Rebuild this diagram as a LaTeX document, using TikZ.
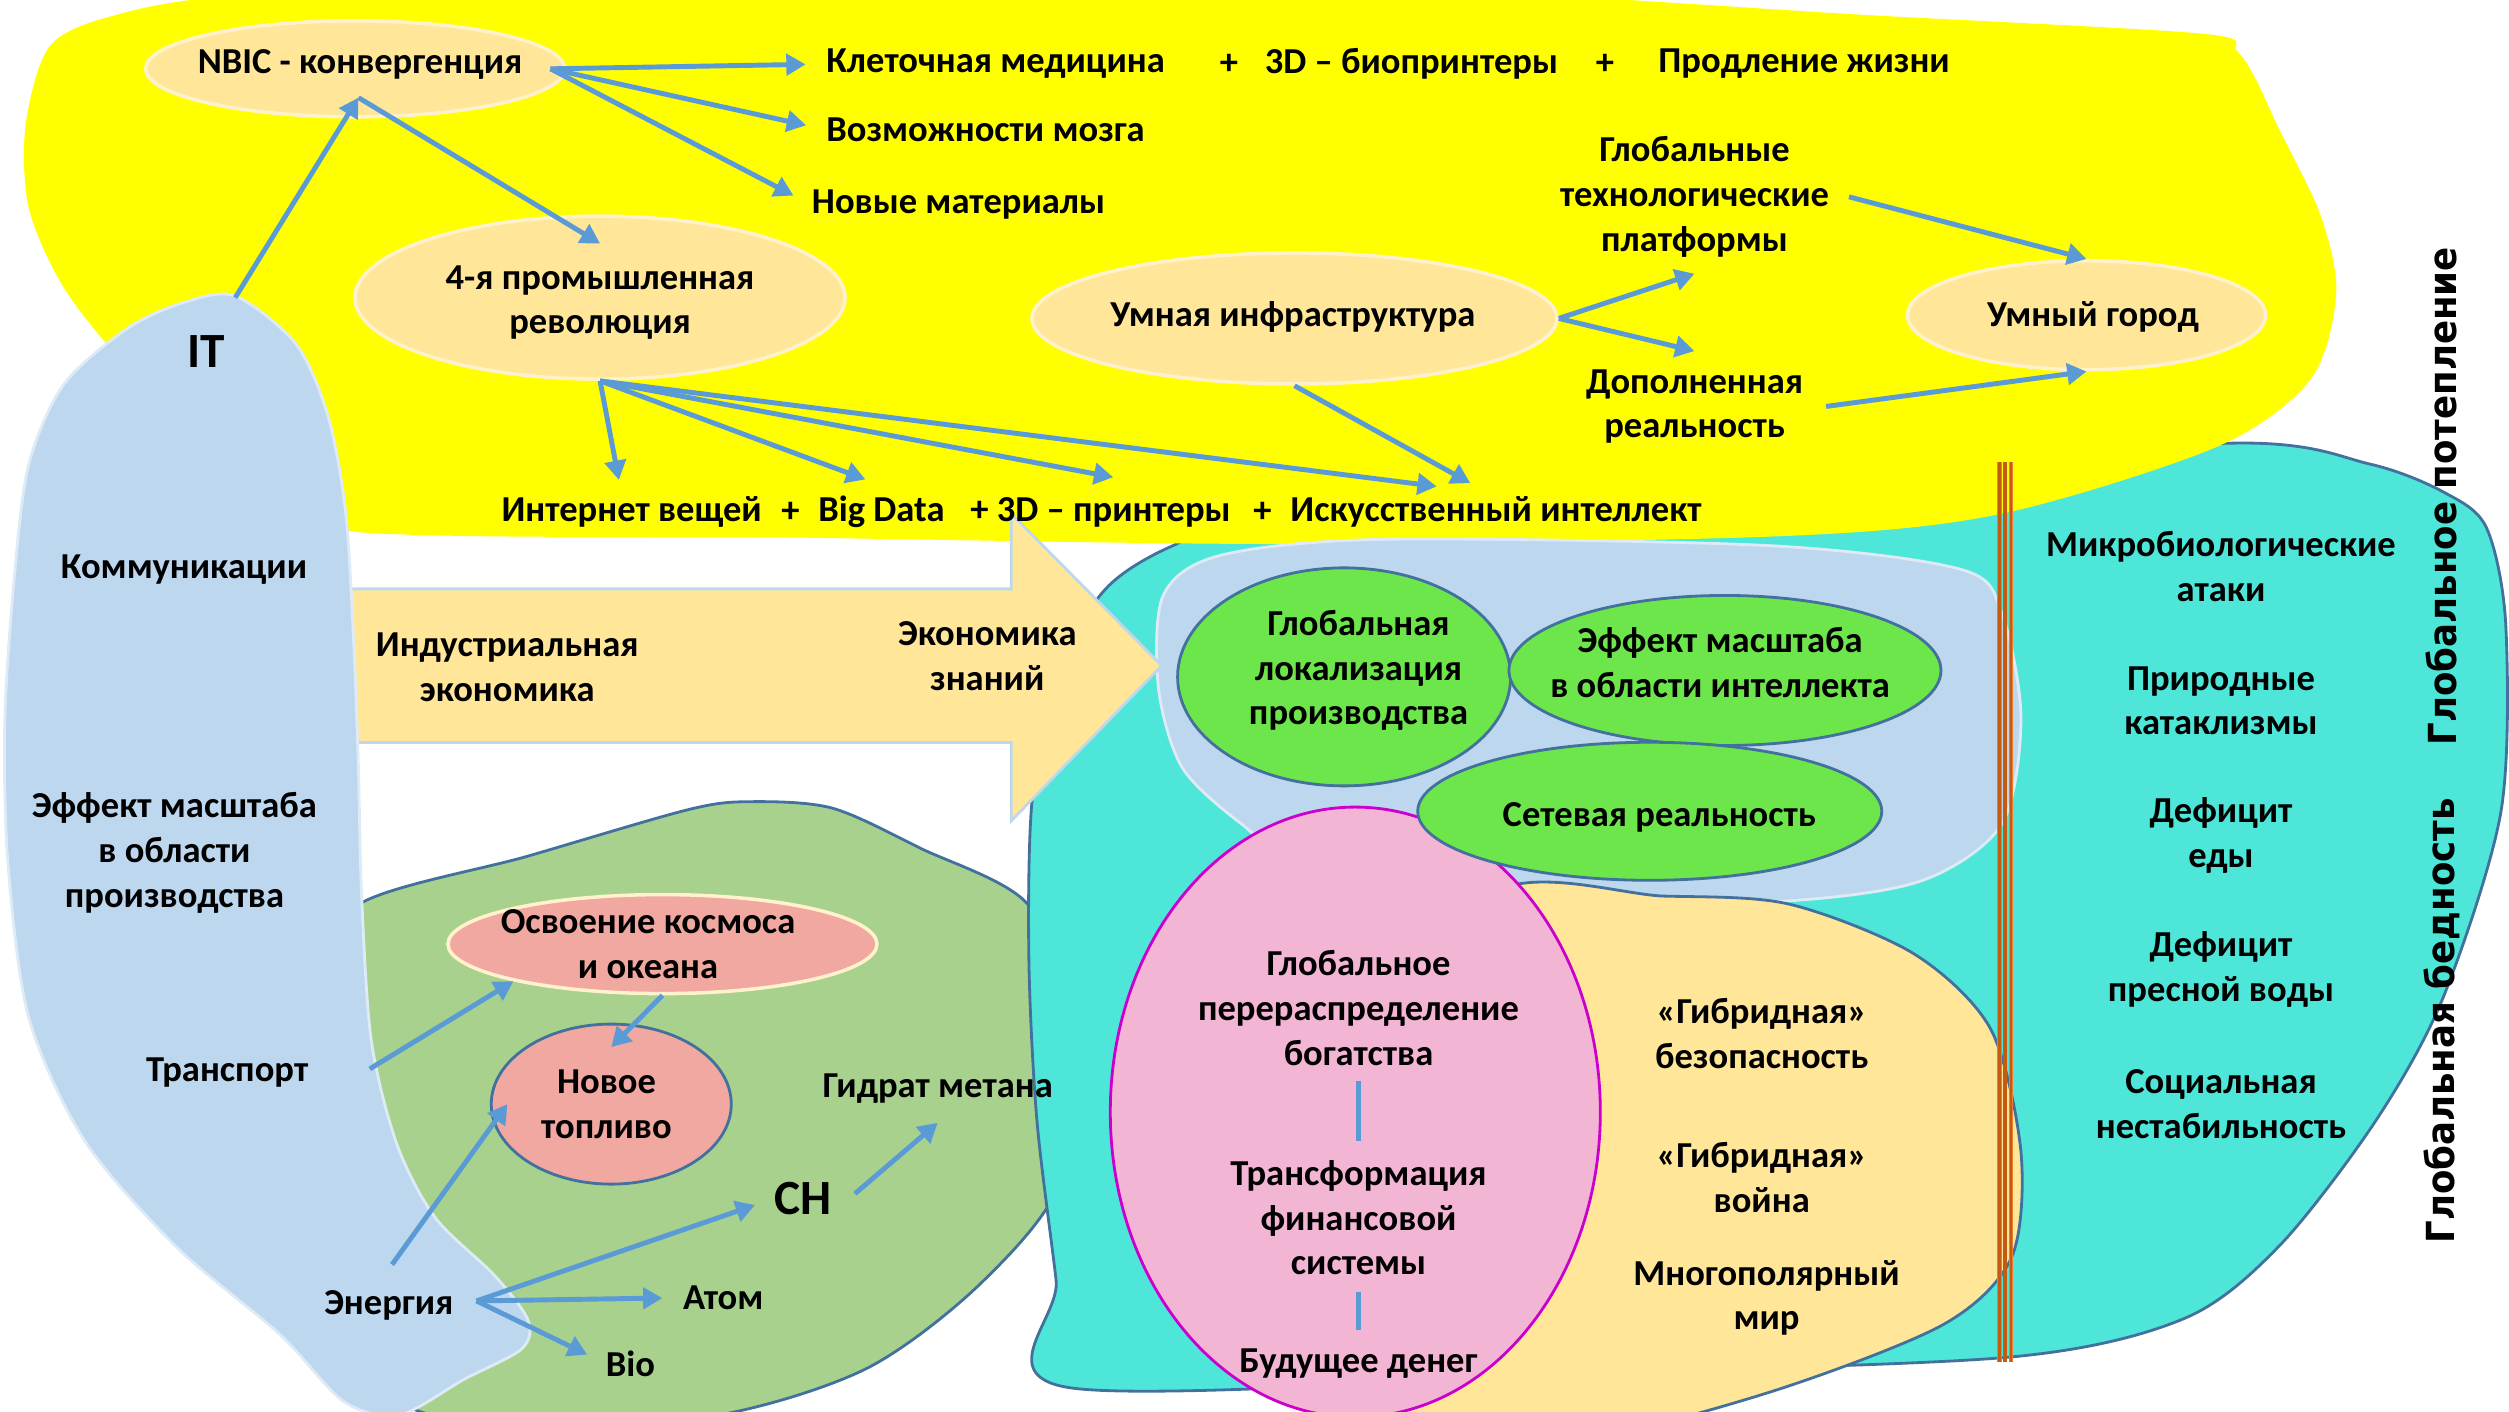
\documentclass[tikz,border=0pt]{standalone}
\usepackage{fontspec}
\setmainfont{Carlito}
\newfontfamily\sidefont{DejaVu Sans}[FakeStretch=0.92]
\usetikzlibrary{shapes.geometric,arrows.meta,calc}

\definecolor{sunyellow}{HTML}{FFFF00}
\definecolor{itblue}{HTML}{BDD7EE}
\definecolor{itedge}{HTML}{DEEBF7}
\definecolor{fieldgreen}{HTML}{A9D18E}
\definecolor{seacyan}{HTML}{4EE6D9}
\definecolor{edgeblue}{HTML}{41719C}
\definecolor{sand}{HTML}{FFE699}
\definecolor{sandedge}{HTML}{FFF2CC}
\definecolor{rose}{HTML}{F3B5D4}
\definecolor{roseedge}{HTML}{CC00CC}
\definecolor{salmon}{HTML}{F0A8A0}
\definecolor{lime}{HTML}{6DE64B}
\definecolor{linkblue}{HTML}{5B9BD5}
\definecolor{rust}{HTML}{C55A11}
\definecolor{rustlight}{HTML}{ED7D31}

\newcommand\lblfont{\fontsize{10.4}{12.7}\selectfont\bfseries}

\tikzset{
  lbl/.style={font=\lblfont, align=center, inner sep=0pt},
  biglbl/.style={font=\fontsize{14}{16}\selectfont\bfseries, inner sep=0pt},
  sidelbl/.style={font=\sidefont\fontsize{11}{13}\selectfont\bfseries, inner sep=0pt, rotate=90},
  oval/.style={ellipse, inner sep=0pt},
  arr/.style={draw=linkblue, line width=1.4pt, -{Triangle[length=5.5pt,width=6pt]}},
  link/.style={draw=linkblue, line width=1.6pt},
}

\begin{document}
\begin{tikzpicture}[x=0.16mm, y=-0.16mm]
\useasboundingbox (0,0) rectangle (1568,882);
\clip (0,0) rectangle (1568,882);

% background areas
\filldraw[fill=fieldgreen, draw=edgeblue, line width=0.8pt] plot[smooth cycle] coordinates {
  (223,566) (330,535) (430,506) (469,501) (520,505) (575,530) (643,566)
  (660,640) (664,735) (614,801) (540,856) (439,886) (300,890) (230,860) (205,750) (210,620)};
\filldraw[fill=seacyan, draw=edgeblue, line width=0.8pt] plot[smooth cycle] coordinates {
  (691,368) (733,341) (800,320) (1100,300) (1392,277) (1481,290) (1528,308) (1554,330)
  (1566,391) (1563,507) (1527,623) (1485,700) (1425,778) (1365,824) (1257,848)
  (1000,858) (667,867) (660,800) (648,700) (643,600) (645,500) (660,420)};
\fill[sunyellow] plot[smooth cycle] coordinates {
  (150,-3) (70,10) (31,29) (16,78) (18,130) (40,180) (80,230) (150,300) (218,332)
  (500,336) (813,340) (1115,335) (1251,321) (1386,279) (1444,237) (1460,183)
  (1450,134) (1423,78) (1410,50) (1398,32) (1376,21) (1160,9) (948,-4) (700,-14) (400,-14)};
\filldraw[fill=itblue, draw=itedge, line width=0.8pt] plot[smooth cycle] coordinates {
  (727,372) (763,347) (866,337) (1106,341) (1226,356) (1251,383) (1263,449)
  (1251,515) (1202,550) (1118,563) (950,568) (805,530) (776,515) (739,480) (724,430)};
\filldraw[fill=sand, draw=edgeblue, line width=0.8pt] plot[smooth cycle] coordinates {
  (930,560) (1040,560) (1118,565) (1196,596) (1244,643) (1263,720) (1257,786)
  (1214,828) (1106,870) (986,900) (870,900) (860,700)};
\node[oval, fill=rose, draw=roseedge, line width=0.8pt, minimum width=49mm, minimum height=61mm] (wealth) at (847,695) {};

% green ovals
\node[oval, fill=lime, draw=edgeblue, line width=0.8pt, minimum width=33.3mm, minimum height=21.8mm] (loc) at (840,423) {};
\node[oval, fill=lime, draw=edgeblue, line width=0.8pt, minimum width=43.2mm, minimum height=15mm] (scale) at (1078,419) {};
\node[oval, fill=lime, draw=edgeblue, line width=0.8pt, minimum width=46.4mm, minimum height=13.8mm] (net) at (1031,507) {};

% big arrow
\draw[fill=sand, draw=itblue, line width=0.8pt] (218,368) -- (632,368) -- (632,321) -- (726,416)
  -- (632,513) -- (632,464) -- (218,464) -- cycle;

% IT area
\filldraw[fill=itblue, draw=itedge, line width=0.8pt] plot[smooth cycle] coordinates {
  (147,185) (185,215) (205,260) (216,320) (221,400) (224,480) (226,560) (232,650)
  (248,715) (272,761) (309,797) (330,825) (326,843) (290,862) (250,884) (215,876)
  (175,834) (110,779) (53,713) (18,636) (5,540) (3,450) (9,360) (18,290) (40,240)
  (80,205) (115,189)};

% tan and salmon ovals
\node[oval, fill=sand, draw=sandedge, line width=1pt, minimum width=41.9mm, minimum height=9.6mm] (nbic) at (222,43) {};
\node[oval, fill=sand, draw=sandedge, line width=1pt, minimum width=49mm, minimum height=16.3mm] (rev) at (375,186) {};
\node[oval, fill=sand, draw=sandedge, line width=1pt, minimum width=52.5mm, minimum height=13.1mm] (infra) at (809,199) {};
\node[oval, fill=sand, draw=sandedge, line width=1pt, minimum width=35.8mm, minimum height=10.9mm] (city) at (1304,197) {};
\node[oval, fill=salmon, draw=sandedge, line width=1pt, minimum width=42.9mm, minimum height=9.9mm] (space) at (414,590) {};
\node[oval, fill=salmon, draw=edgeblue, line width=0.8pt, minimum width=24mm, minimum height=16mm] (fuel) at (382,690) {};

% border lines
\foreach \x in {1249.6,1253.2,1256.8}
  \draw[rustlight, line width=1.2pt] (\x,289) -- (\x,851);
\foreach \x/\w in {1249.6/0.6pt,1253.2/1.2pt,1256.8/0.6pt}
  \draw[rust, line width=\w] (\x,289) -- (\x,851);

% labels, top
\node[lbl] (tNbic) at (225,40) {NBIC - конвергенция};
\node[lbl, anchor=west] (tCell) at (516,40) {Клеточная медицина};
\node[lbl] (tPlusA) at (768,40) {+};
\node[lbl, anchor=west] (tBioprint) at (790,40) {3D – биопринтеры};
\node[lbl] (tPlusB) at (1003,40) {+};
\node[lbl, anchor=west] (tLife) at (1036,40) {Продление жизни};
\node[lbl, anchor=west] (tBrain) at (516,81) {Возможности мозга};
\node[lbl, anchor=west] (tMat) at (507,128) {Новые материалы};
\node[lbl] (tRev) at (375,189) {4-я промышленная\\революция};
\node[lbl] (tInfra) at (808,198) {Умная инфраструктура};
\node[lbl] (tPlat) at (1059,123) {Глобальные\\технологические\\платформы};
\node[lbl] (tAr) at (1059,254) {Дополненная\\реальность};
\node[lbl] (tCity) at (1308,198) {Умный город};
\node[biglbl] (tIT) at (129,220) {IT};
\node[lbl, anchor=west] (tIot) at (313,320) {Интернет вещей};
\node[lbl] (tPlusC) at (494,320) {+};
\node[lbl, anchor=west] (tBig) at (511,320) {Big Data};
\node[lbl, anchor=west] (t3dp) at (606,320) {+ 3D – принтеры};
\node[lbl] (tPlusD) at (789,320) {+};
\node[lbl, anchor=west] (tAi) at (806,320) {Искусственный интеллект};

% labels, left and middle
\node[lbl] (tComm) at (115,356) {Коммуникации};
\node[lbl] (tInd) at (317,417) {Индустриальная\\экономика};
\node[lbl] (tKnow) at (617,410) {Экономика\\знаний};
\node[lbl] (tProd) at (109,533) {Эффект масштаба\\в области\\производства};
\node[lbl] (tTrans) at (142,670) {Транспорт};
\node[lbl] (tSpace) at (405,590) {Освоение космоса\\и океана};
\node[lbl] (tFuel) at (379,690) {Новое\\топливо};
\node[lbl] (tGid) at (586,680) {Гидрат метана};
\node[biglbl] (tCH) at (502,749) {CH};
\node[lbl] (tEnergy) at (243,816) {Энергия};
\node[lbl] (tAtom) at (452,811) {Атом};
\node[lbl] (tBio) at (394,852) {Bio};

% labels, right
\node[lbl] (tLoc) at (849,419) {Глобальная\\локализация\\производства};
\node[lbl] (tScale) at (1075,414) {Эффект масштаба\\в области интеллекта};
\node[lbl] (tNet) at (1037,511) {Сетевая реальность};
\node[lbl] (tWealth) at (849,630) {Глобальное\\перераспределение\\богатства};
\node[lbl] (tFin) at (849,761) {Трансформация\\финансовой\\системы};
\node[lbl] (tMoney) at (849,852) {Будущее денег};
\node[lbl] (tSec) at (1101,646) {«Гибридная»\\безопасность};
\node[lbl] (tWar) at (1101,736) {«Гибридная»\\война};
\node[lbl] (tMulti) at (1104,811) {Многополярный\\мир};
\node[lbl] (tMicro) at (1388,354) {Микробиологические\\атаки};
\node[lbl] (tNature) at (1388,438) {Природные\\катаклизмы};
\node[lbl] (tFood) at (1388,522) {Дефицит\\еды};
\node[lbl] (tWater) at (1388,606) {Дефицит\\пресной воды};
\node[lbl] (tSocial) at (1388,690) {Социальная\\нестабильность};
\node[sidelbl] (tWarm) at (1526,310) {Глобальное потепление};
\node[sidelbl] (tPoor) at (1526,638) {Глобальная бедность};

% connectors
\coordinate (itTop) at (147,186);
\coordinate (nbicIn) at (224,61);
\draw[arr] (itTop) -- (nbicIn);
\draw[arr] (nbicIn) -- ($(rev.north)!0.35!(rev.center)$);
\draw[arr, shorten >=2mm] ([xshift=-1.6mm]nbic.east) -- (tCell.west);
\draw[arr, shorten >=2mm] ([xshift=-1.6mm]nbic.east) -- (tBrain.west);
\draw[arr, shorten >=2mm] ([xshift=-1.6mm]nbic.east) -- (tMat.west);
\draw[arr] (rev.south) -- ($(tIot.north)+(-8,-10)$);
\draw[arr] (rev.south) -- ($(tBig.north)+(-10,-10)$);
\draw[arr] (rev.south) -- ($(t3dp.north)+(8,-12)$);
\draw[arr] (rev.south) -- ($(tAi.north)+(-37,-6)$);
\draw[arr] (infra.south) -- ($(tAi.north)+(-16,-8)$);
\draw[arr] (infra.east) -- ($(tPlat.south)+(0,10)$);
\draw[arr] (infra.east) -- ($(tAr.north)+(0,-11)$);
\draw[arr] ($(tPlat.east)+(12,0)$) -- (city.north);
\draw[arr] ($(tAr.east)+(14,0)$) -- (city.south);
\draw[arr] ($(tTrans.east)+(38,-2)$) -- (space.194);
\draw[arr] (space.south) -- ($(fuel.north)!0.3!(fuel.center)$);
\draw[arr] ($(tEnergy.north)+(2,-16)$) -- ($(fuel.west)+(11,0)$);
\coordinate (enHub) at ($(tEnergy.east)+(14,-3)$);
\draw[arr, shorten >=2mm] (enHub) -- (tCH.west);
\draw[arr, shorten >=2mm] (enHub) -- (tAtom.west);
\draw[arr, shorten >=2mm] (enHub) -- (tBio.west);
\draw[arr] ($(tCH.east)+(14,-3)$) -- ($(tGid.south)+(0,12)$);
\draw[link] ($(tWealth.south)+(0,9)$) -- ($(tFin.north)+(0,-12)$);
\draw[link] ($(tFin.south)+(0,10)$) -- ($(tMoney.north)+(0,-11)$);
\end{tikzpicture}
\end{document}
